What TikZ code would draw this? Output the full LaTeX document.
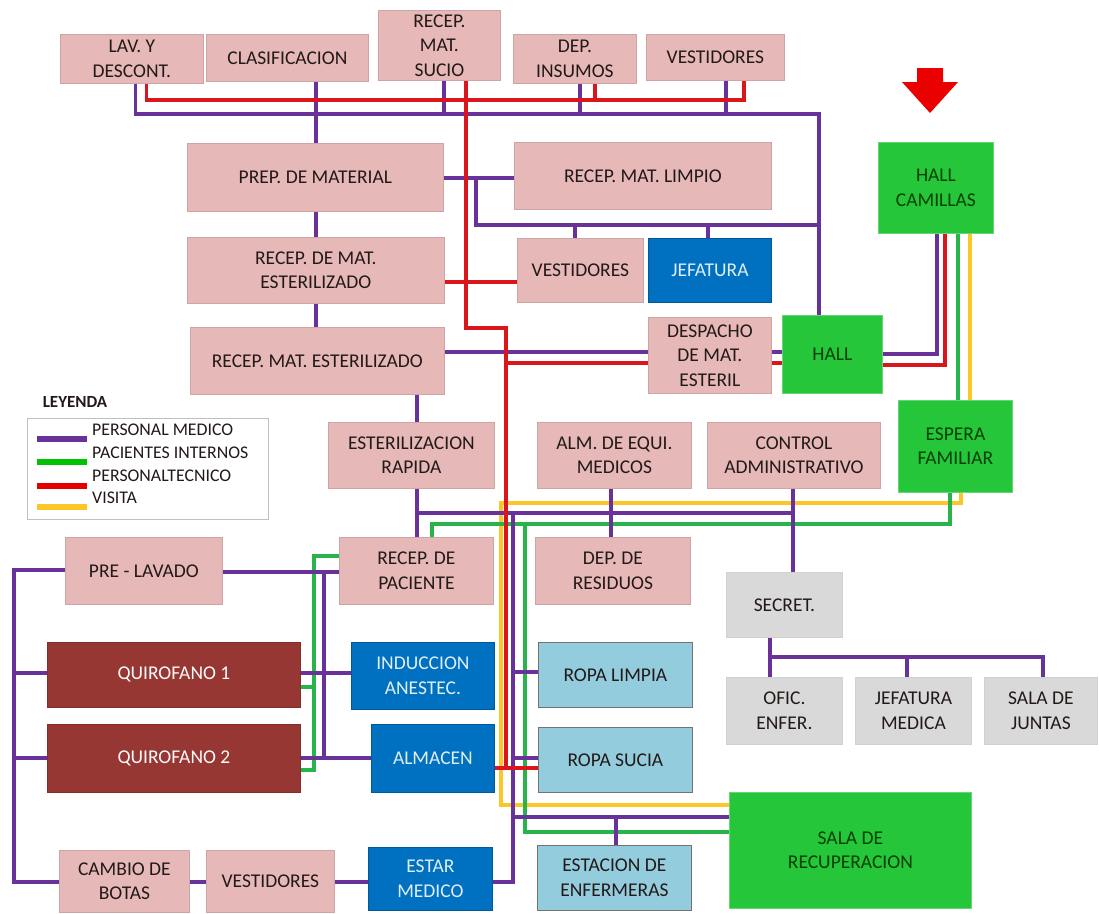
\documentclass[tikz,border=0pt]{standalone}
\usepackage{fontspec}
\setmainfont{Carlito}
\definecolor{pinkf}{RGB}{230,185,184}
\definecolor{pinkd}{RGB}{205,165,165}
\definecolor{qred}{RGB}{150,55,52}
\definecolor{bluef}{RGB}{0,112,192}
\definecolor{lbluef}{RGB}{147,205,221}
\definecolor{greenf}{RGB}{38,198,58}
\definecolor{greyf}{RGB}{217,217,217}
\definecolor{lpur}{RGB}{105,50,155}
\definecolor{lgrn}{RGB}{40,180,75}
\definecolor{lred}{RGB}{218,22,28}
\definecolor{lyel}{RGB}{250,198,40}
\definecolor{txt}{RGB}{35,25,25}
\newcommand{\rbox}[7]{\node[#1, anchor=north west, minimum width={#5-#3}, minimum height={#6-#4}] (#2) at (#3,#4) {#7};}
\begin{document}
\begin{tikzpicture}[x=1pt,y=-1pt,
  box/.style={draw, line width=0.8pt, inner sep=1pt, align=center, font=\fontsize{19.5}{24.5}\selectfont, text=txt},
  pink/.style={box, fill=pinkf, draw=pinkd},
  qbox/.style={box, fill=qred, draw=qred!85!black, text=white!92!pink},
  bbox/.style={box, fill=bluef, draw=bluef!80!black, text=white!88!bluef},
  lbbox/.style={box, fill=lbluef, draw=black!55},
  gbox/.style={box, fill=greenf, draw=greenf!70!white, text=black!75!green},
  grbox/.style={box, fill=greyf, draw=black!18},
  ln/.style={line width=3.5pt},
  pur/.style={ln, draw=lpur},
  grn/.style={ln, draw=lgrn},
  rd/.style={ln, draw=lred},
  yel/.style={ln, draw=lyel},
  legline/.style={line width=6pt},
  legtext/.style={anchor=west, font=\fontsize{17.8}{20}\selectfont, text=txt, inner sep=0pt}
]
\fill[white] (0,0) rectangle (1099,913);
\useasboundingbox (0,0) rectangle (1099,913);

% ---------- nodes ----------
\rbox{pink}{lav}{60}{34}{203}{83}{LAV. Y\\DESCONT.}
\rbox{pink}{clas}{206}{34}{368}{81}{CLASIFICACION}
\rbox{pink}{sucio}{378}{10}{500}{80}{RECEP.\\MAT.\\SUCIO}
\rbox{pink}{insumos}{513}{34}{636}{83}{DEP.\\INSUMOS}
\rbox{pink}{vest1}{646}{34}{784}{80}{VESTIDORES}
\rbox{pink}{prep}{187}{143}{443}{211}{PREP. DE MATERIAL}
\rbox{pink}{limpio}{514}{142}{771}{209}{RECEP. MAT. LIMPIO}
\rbox{pink}{vest2}{517}{238}{643}{302}{VESTIDORES}
\rbox{bbox}{jefatura}{648}{238}{771}{302}{JEFATURA}
\rbox{pink}{recdemat}{187}{237}{444}{303}{RECEP. DE MAT.\\ESTERILIZADO}
\rbox{pink}{recmatest}{190}{327}{444}{394}{RECEP. MAT. ESTERILIZADO}
\rbox{pink}{despacho}{648}{317}{771}{393}{DESPACHO\\DE MAT.\\ESTERIL}
\rbox{gbox}{hall}{782}{315}{882}{393}{HALL}
\rbox{gbox}{hallcam}{878}{142}{993}{233}{HALL\\CAMILLAS}
\rbox{gbox}{espera}{898}{400}{1012}{492}{ESPERA\\FAMILIAR}
\rbox{pink}{esterap}{328}{422}{494}{488}{ESTERILIZACION\\RAPIDA}
\rbox{pink}{alm}{537}{422}{691}{488}{ALM. DE EQUI.\\MEDICOS}
\rbox{pink}{control}{707}{422}{880}{488}{CONTROL\\ADMINISTRATIVO}
\rbox{pink}{recpac}{339}{537}{493}{604}{RECEP. DE\\PACIENTE}
\rbox{pink}{residuos}{535}{537}{690}{604}{DEP. DE\\RESIDUOS}
\rbox{pink}{prelav}{65}{537}{222}{604}{PRE - LAVADO}
\rbox{grbox}{secret}{726}{572}{842}{637}{SECRET.}
\rbox{grbox}{ofic}{726}{677}{842}{744}{OFIC.\\ENFER.}
\rbox{grbox}{jefmed}{855}{677}{971}{744}{JEFATURA\\MEDICA}
\rbox{grbox}{juntas}{984}{677}{1097}{744}{SALA DE\\JUNTAS}
\rbox{qbox}{q1}{47}{642}{300}{707}{QUIROFANO 1}
\rbox{qbox}{q2}{47}{724}{300}{792}{QUIROFANO 2}
\rbox{bbox}{induccion}{351}{642}{494}{709}{INDUCCION\\ANESTEC.}
\rbox{bbox}{almacen}{371}{724}{494}{792}{ALMACEN}
\rbox{lbbox}{ropalimpia}{538}{642}{692}{707}{ROPA LIMPIA}
\rbox{lbbox}{ropasucia}{538}{727}{692}{792}{ROPA SUCIA}
\rbox{gbox}{sala}{729}{792}{971}{908}{SALA DE\\RECUPERACION}
\rbox{lbbox}{estacion}{537}{845}{691}{910}{ESTACION DE\\ENFERMERAS}
\rbox{pink}{cambio}{59}{850}{189}{912}{CAMBIO DE\\BOTAS}
\rbox{pink}{vest3}{206}{850}{334}{912}{VESTIDORES}
\rbox{bbox}{estar}{368}{847}{492}{910}{ESTAR\\MEDICO}

% entrance arrow
\fill[red!92!black] (917,68) -- (943,68) -- (943,82) -- (958,82) -- (930,113) -- (902,82) -- (917,82) -- cycle;

% ---------- legend ----------
\node[font=\bfseries\fontsize{17}{19}\selectfont, text=txt, inner sep=0pt] (legt) at (75,402) {LEYENDA};
\node[draw=black!25, line width=0.6pt, minimum width=241pt, minimum height=101pt, anchor=north west, inner sep=0pt] (legbox) at (27,418) {};
\draw[legline, lpur] (37,439) -- (87,439);
\draw[legline, green!70!black!80!green] (37,462) -- (87,462);
\draw[legline, red!90!black] (37,486) -- (87,486);
\draw[legline, lyel] (37,507) -- (87,507);
\node[legtext] (l1) at (92,430) {PERSONAL MEDICO};
\node[legtext] (l2) at (92,453) {PACIENTES INTERNOS};
\node[legtext] (l3) at (92,476) {PERSONALTECNICO};
\node[legtext] (l4) at (92,498) {VISITA};

% ---------- yellow ----------
\draw[yel] (hallcam.south -| 970,0) -- (espera.north -| 970,0);
\draw[yel] (espera.south -| 961,0) |- (501,503) |- (sala.west |- 0,805);

% ---------- green ----------
\draw[grn] (hallcam.south -| 958,0) -- (espera.north -| 958,0);
\draw[grn] (recpac.north -| 432,0) |- (950,524) -- (espera.south -| 950,0);
\draw[grn] (525,524) |- (sala.west |- 0,832);
\draw[grn] (recpac.west |- 0,556) -| (314,770) -- (q2.east |- 0,770);
\draw[grn] (314,687) -- (q1.east |- 0,687);

% ---------- purple ----------
\draw[pur] ([xshift=3.5pt]lav.south) |- (819,114) -- (hall.north -| 819,0);
\draw[pur] (clas.south -| 316,0) -- (prep.north -| 316,0);
\draw[pur] (sucio.south -| 444,0) -- (444,114);
\draw[pur] (insumos.south -| 580,0) -- (580,114);
\draw[pur] (vest1.south -| 726,0) -- (726,114);
\draw[pur] (prep.east |- 0,178) -- (limpio.west |- 0,178);
\draw[pur] (476,178) |- (819,225);
\draw[pur] (575,225) -- (vest2.north -| 575,0);
\draw[pur] (708,225) -- (jefatura.north -| 708,0);
\draw[pur] (prep.south -| 316,0) -- (recdemat.north -| 316,0);
\draw[pur] (recdemat.south -| 316,0) -- (recmatest.north -| 316,0);
\draw[pur] (recmatest.east |- 0,352) -- (despacho.west |- 0,352);
\draw[pur] (despacho.east |- 0,352) -- (hall.west |- 0,352);
\draw[pur] (hall.east |- 0,354) -| (hallcam.south -| 937,0);
\draw[pur] (recmatest.south -| 417,0) -- (esterap.north -| 417,0);
\draw[pur] (esterap.south -| 417,0) -- (recpac.north -| 417,0);
\draw[pur] (417,513) -- (793,513);
\draw[pur] (control.south -| 793,0) -- (secret.north -| 793,0);
\draw[pur] (secret.south -| 770,0) -- (ofic.north -| 770,0);
\draw[pur] (770,657) -| (juntas.north -| 1043,0);
\draw[pur] (907,657) -- (jefmed.north -| 907,0);
\draw[pur] (alm.south -| 611,0) -- (residuos.north -| 611,0);
\draw[pur] (513,513) |- (estar.east |- 0,882);
\draw[pur] (513,672) -- (ropalimpia.west |- 0,672);
\draw[pur] (513,758) -- (ropasucia.west |- 0,758);
\draw[pur] (513,817) -- (sala.west |- 0,817);
\draw[pur] (616,817) -- (estacion.north -| 616,0);
\draw[pur] (prelav.east |- 0,572) -- (recpac.west |- 0,572);
\draw[pur] (prelav.west |- 0,570) -| (14,882) -- (cambio.west |- 0,882);
\draw[pur] (14,673) -- (q1.west |- 0,673);
\draw[pur] (14,758) -- (q2.west |- 0,758);
\draw[pur] (cambio.east |- 0,882) -- (vest3.west |- 0,882);
\draw[pur] (vest3.east |- 0,882) -- (estar.west |- 0,882);
\draw[pur] (324,572) -- (324,758);
\draw[pur] (q1.east |- 0,673) -- (induccion.west |- 0,673);
\draw[pur] (q2.east |- 0,758) -- (almacen.west |- 0,758);

% ---------- red ----------
\draw[rd] ([xshift=14.5pt]lav.south) |- (744,100) -- (vest1.south -| 744,0);
\draw[rd] (insumos.south -| 595,0) -- (595,100);
\draw[rd] (sucio.south -| 466,0) |- (506,328) -- (506,768);
\draw[rd] (recdemat.east |- 0,282) -- (vest2.west |- 0,282);
\draw[rd] (506,363) -- (despacho.west |- 0,363);
\draw[rd] (despacho.east |- 0,363) -- (hall.west |- 0,363);
\draw[rd] (hall.east |- 0,365) -| (hallcam.south -| 945,0);
\draw[rd] (almacen.east |- 0,768) -- (ropasucia.west |- 0,768);
\end{tikzpicture}
\end{document}
